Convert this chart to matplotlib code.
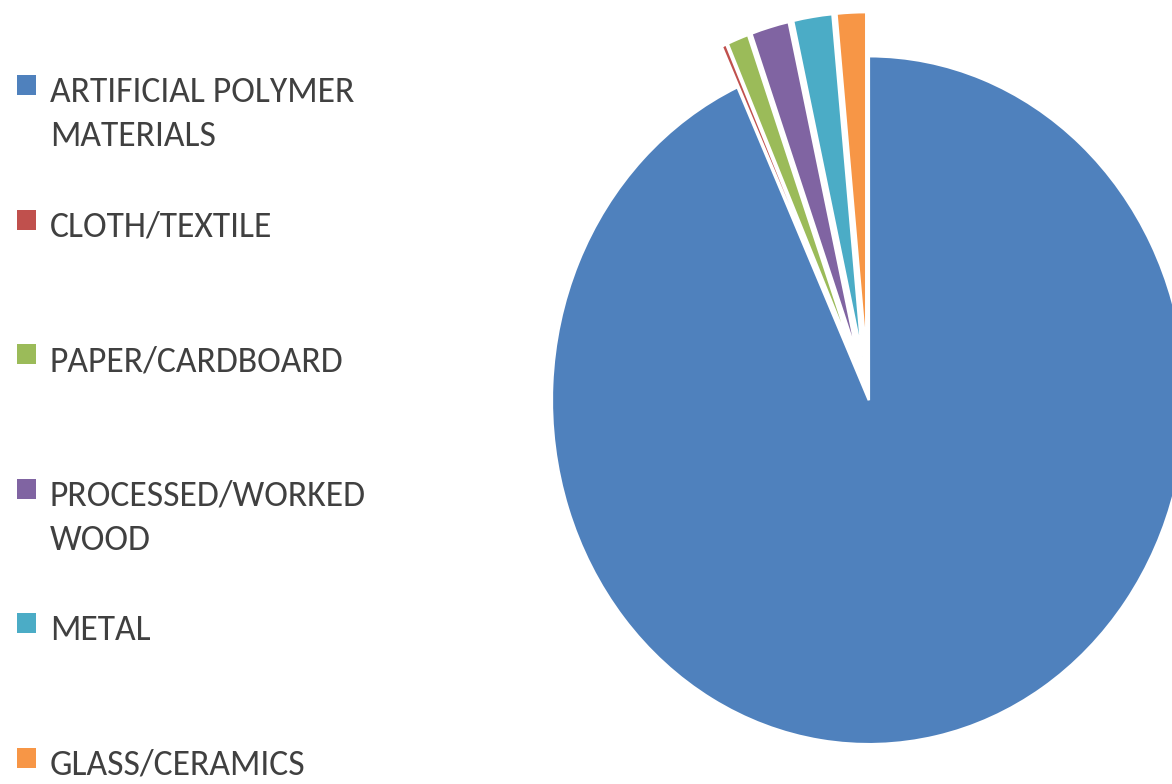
import matplotlib
matplotlib.use("Agg")
import matplotlib.pyplot as plt
from matplotlib.patches import Rectangle
from matplotlib import font_manager

# ---- data ----
categories = ["ARTIFICIAL POLYMER MATERIALS", "CLOTH/TEXTILE", "PAPER/CARDBOARD",
              "PROCESSED/WORKED WOOD", "METAL", "GLASS/CERAMICS"]
legend_labels = ["ARTIFICIAL POLYMER\nMATERIALS", "CLOTH/TEXTILE", "PAPER/CARDBOARD",
                 "PROCESSED/WORKED\nWOOD", "METAL", "GLASS/CERAMICS"]
values = [93.2, 0.25, 1.1, 1.95, 2.0, 1.5]
colors = ["#4F81BD", "#C0504D", "#9BBB59", "#8064A2", "#4BACC6", "#F79646"]
explode = [0.0125, 0.116, 0.116, 0.116, 0.116, 0.116]

W, H = 1172, 784
fig = plt.figure(figsize=(W / 100, H / 100), dpi=100)

# pick a Calibri-like font if available
names = {f.name for f in font_manager.fontManager.ttflist}
fam = [n for n in ["Carlito", "Liberation Sans Narrow", "Lato", "Liberation Sans", "DejaVu Sans"]
       if n in names][:1] + ["DejaVu Sans"]

# ---- pie ----
ax = fig.add_axes([0, 0, 1, 1])
cx, cy = 868.0, 396.0      # pixel centre (from top)
rx, ry = 317.0, 344.0      # pixel radii
ax.pie(values, colors=colors, startangle=90, counterclock=False,
       explode=explode,
       wedgeprops=dict(edgecolor="white", linewidth=1.8))
ax.set_aspect("auto")
ax.set_xlim(-cx / rx, (W - cx) / rx)
ax.set_ylim(-(H - cy) / ry, cy / ry)
ax.axis("off")

# ---- legend (manual, Excel-style even spacing) ----
lax = fig.add_axes([0, 0, 1, 1], facecolor="none")
lax.set_xlim(0, W)
lax.set_ylim(H, 0)
lax.axis("off")

# size the font so the first label line spans ~305 px like the reference
fs = 25.0
probe = lax.text(50, 100, "ARTIFICIAL POLYMER", fontsize=fs, family=fam)
r = fig.canvas.get_renderer()
wpx = probe.get_window_extent(renderer=r).width
probe.remove()
fs = fs * 305.0 / wpx

base0, step, line_gap = 102, 134.6, 44
for i, (lab, col) in enumerate(zip(legend_labels, colors)):
    yb = base0 + step * i
    lax.add_patch(Rectangle((17, yb - 27), 19, 20, facecolor=col, edgecolor="none"))
    for j, line in enumerate(lab.split("\n")):
        lax.text(50, yb + j * line_gap, line, fontsize=fs, family=fam,
                 color="#404040", va="baseline", ha="left")

fig.savefig("out.png", dpi=100)
